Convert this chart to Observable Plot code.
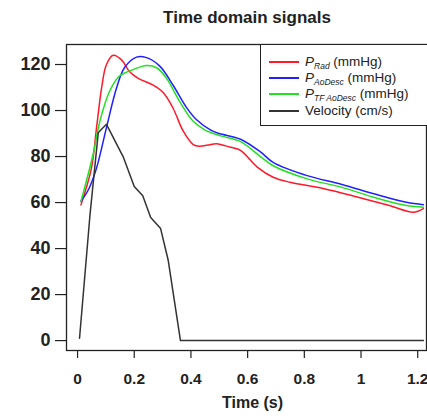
<!DOCTYPE html>
<html><head><meta charset="utf-8">
<script src="https://cdn.jsdelivr.net/npm/d3@7"></script>
<script src="https://cdn.jsdelivr.net/npm/@observablehq/plot@0.6"></script>
<style>
body{margin:0;background:#fff;font-family:"Liberation Sans",Arial,sans-serif;}
#wrap{position:relative;width:427px;height:418px;overflow:hidden;background:#fff}
#title{position:absolute;top:0;left:66px;width:362px;height:36px;line-height:36px;text-align:center;font-weight:bold;font-size:17px;color:#222}
#chart{position:absolute;top:36px;left:0}
#legend{position:absolute;left:260px;top:44px;width:190px;height:82px;border:1.3px solid #222;background:#fff;box-sizing:border-box}
.row{position:absolute;left:0;height:16px;font-size:13.5px;color:#222;white-space:nowrap}
.sw{position:absolute;left:8px;width:30px;height:2px;top:7px}
.lab{position:absolute;left:44px;top:-1px;line-height:17px}
.lab sub{font-size:8.5px;font-style:italic;vertical-align:-3px}
</style></head>
<body>
<div id="wrap">
<div id="title"></div>
<div id="chart"></div>
<div id="legend"></div>
</div>
<script>
const titleText = "Time domain signals";
const xLabel = "Time (s)";
const xTicks = [0, 0.2, 0.4, 0.6, 0.8, 1, 1.2];
const yTicks = [0, 20, 40, 60, 80, 100, 120];

const seriesNames = ["PRad", "PAoDesc", "PTFAoDesc", "Velocity"];
const seriesColors = ["#ff1a2a", "#1f1fff", "#22e022", "#333333"];
const legendMain = ["P", "P", "P", "Velocity (cm/s)"];
const legendSub = ["Rad", "AoDesc", "TF AoDesc", ""];
const legendUnit = [" (mmHg)", " (mmHg)", " (mmHg)", ""];

const tRad = [0.012, 0.049, 0.067, 0.085, 0.102, 0.126, 0.155, 0.183, 0.214, 0.267, 0.302, 0.337, 0.373, 0.408, 0.43, 0.46, 0.49, 0.54, 0.575, 0.634, 0.69, 0.75, 0.87, 0.99, 1.10, 1.185, 1.22];
const vRad = [59, 75, 92.6, 110, 120, 124, 122, 117, 114, 111, 107.8, 101, 91, 85.2, 84.5, 85, 85.6, 84, 82.7, 75.4, 71, 68.8, 66, 62.3, 58.7, 55.8, 57.4];

const tAo = [0.012, 0.04, 0.067, 0.102, 0.138, 0.166, 0.208, 0.243, 0.29, 0.337, 0.384, 0.42, 0.47, 0.50, 0.575, 0.645, 0.69, 0.81, 0.93, 1.045, 1.16, 1.22];
const vAo = [60.5, 66, 75, 92.6, 110, 118.7, 123.2, 123, 119.3, 111, 101.4, 96, 91.5, 90, 87.5, 82, 77.5, 71.7, 68, 63.8, 60.1, 59.1];

const tTF = [0.012, 0.055, 0.078, 0.113, 0.148, 0.196, 0.243, 0.279, 0.314, 0.36, 0.408, 0.45, 0.505, 0.575, 0.645, 0.69, 0.81, 0.93, 1.045, 1.16, 1.22];
const vTF = [60.5, 81, 95, 108.4, 115, 117.8, 119.6, 118.6, 114, 104, 95.3, 91.5, 89, 86.5, 80, 76, 70.3, 66.7, 62.3, 58.7, 58];

const tVel = [0.007, 0.044, 0.073, 0.082, 0.102, 0.162, 0.2, 0.23, 0.258, 0.293, 0.32, 0.363, 1.22];
const vVel = [1, 54.8, 90.3, 91.5, 94, 79.6, 67, 63, 53.5, 48.7, 34.8, 0, 0];

const toRows = (ts, vs, s) => ts.map((t, i) => ({t, v: vs[i], s}));
const pressure = [
  ...toRows(tRad, vRad, seriesNames[0]),
  ...toRows(tAo, vAo, seriesNames[1]),
  ...toRows(tTF, vTF, seriesNames[2])
];
const velocity = toRows(tVel, vVel, seriesNames[3]);

document.getElementById("title").textContent = titleText;

const chart = Plot.plot({
  width: 427,
  height: 382,
  marginTop: 8,
  marginBottom: 68,
  marginLeft: 66,
  marginRight: 1,
  style: {fontFamily: "'Liberation Sans', Arial, sans-serif", color: "#222", background: "transparent"},
  x: {domain: [-0.039, 1.231]},
  y: {domain: [-4.3, 128.7]},
  color: {domain: seriesNames, range: seriesColors},
  marks: [
    Plot.line(pressure, {x: "t", y: "v", z: "s", stroke: "s", curve: "catmull-rom", strokeWidth: 1.5}),
    Plot.line(velocity, {x: "t", y: "v", stroke: "s", strokeWidth: 1.5}),
    Plot.frame({stroke: "#222", strokeWidth: 1.3}),
    Plot.axisY({ticks: yTicks, tickSize: 11, tickPadding: 5, fontSize: 18, fontWeight: "bold", label: null, strokeWidth: 1.2}),
    Plot.axisX({ticks: xTicks, tickSize: 8, tickPadding: 14, fontSize: 15.5, fontWeight: "bold", label: null, tickFormat: d => String(d), strokeWidth: 1.2}),
    Plot.text([xLabel], {frameAnchor: "bottom", dy: 57, dx: 6, fontSize: 16, fontWeight: "bold", fill: "#222"})
  ]
});
document.getElementById("chart").appendChild(chart);

const legend = d3.select("#legend");
const rowTops = [9, 25, 41, 58];
seriesNames.forEach((name, i) => {
  const row = legend.append("div").attr("class", "row").style("top", rowTops[i] + "px").style("width", "180px");
  row.append("div").attr("class", "sw").style("background", seriesColors[i]);
  const lab = row.append("div").attr("class", "lab");
  if (legendSub[i]) {
    lab.append("i").text(legendMain[i]);
    lab.append("sub").text(legendSub[i]);
    lab.append("span").text(legendUnit[i]);
  } else {
    lab.append("span").text(legendMain[i]);
  }
});
</script>
</body></html>
